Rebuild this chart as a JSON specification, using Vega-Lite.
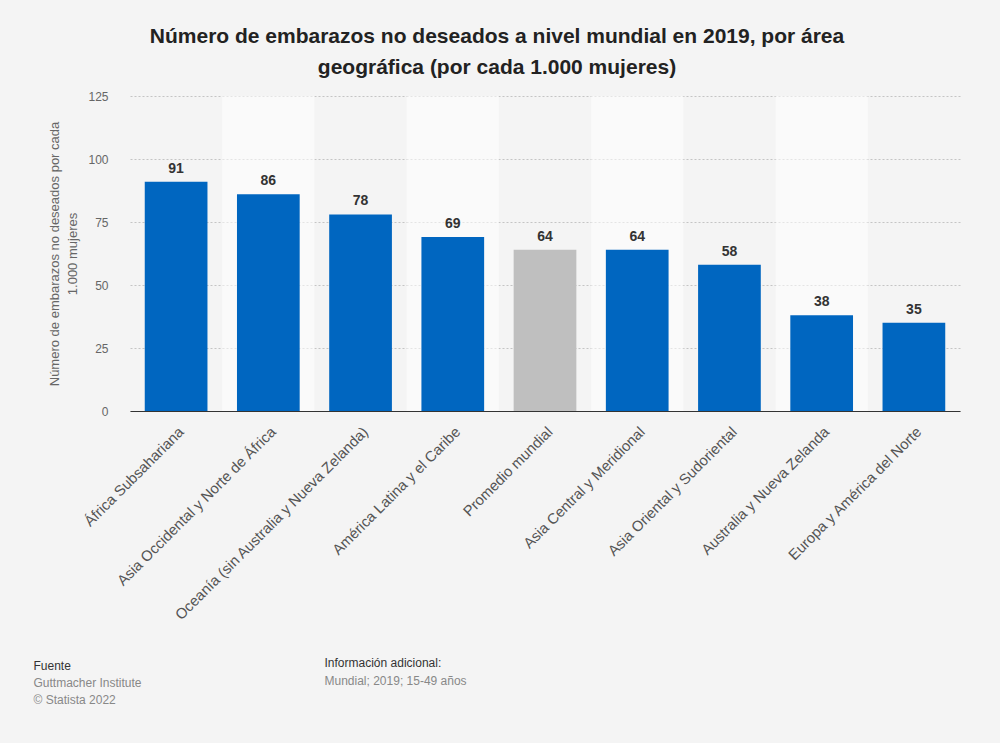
{
  "$schema": "https://vega.github.io/schema/vega-lite/v6.json",
  "width": 830,
  "height": 315,
  "autosize": {"type": "none"},
  "padding": {"left": 130, "top": 96, "right": 40, "bottom": 332},
  "background": "#f4f4f4",
  "config": {
    "view": {"stroke": null},
    "font": "Liberation Sans",
    "axis": {"titleFont": "Liberation Sans", "labelFont": "Liberation Sans"}
  },
  "title": {
    "text": ["Número de embarazos no deseados a nivel mundial en 2019, por área", "geográfica (por cada 1.000 mujeres)"],
    "font": "Liberation Sans",
    "fontSize": 21,
    "fontWeight": "bold",
    "color": "#222222",
    "anchor": "middle",
    "frame": "group",
    "dx": -48,
    "offset": 12,
    "lineHeight": 31
  },
  "data": {
    "values": [
      {"categoria": "África Subsahariana", "valor": 91},
      {"categoria": "Asia Occidental y Norte de África", "valor": 86},
      {"categoria": "Oceanía (sin Australia y Nueva Zelanda)", "valor": 78},
      {"categoria": "América Latina y el Caribe", "valor": 69},
      {"categoria": "Promedio mundial", "valor": 64},
      {"categoria": "Asia Central y Meridional", "valor": 64},
      {"categoria": "Asia Oriental y Sudoriental", "valor": 58},
      {"categoria": "Australia y Nueva Zelanda", "valor": 38},
      {"categoria": "Europa y América del Norte", "valor": 35}
    ]
  },
  "transform": [{"window": [{"op": "row_number", "as": "idx"}]}],
  "layer": [
    {
      "mark": {"type": "rect"},
      "encoding": {
        "x": {
          "field": "categoria", "type": "nominal", "sort": null,
          "scale": {"paddingInner": 0, "paddingOuter": 0},
          "axis": {
            "orient": "top", "labels": false, "ticks": false, "domain": false, "grid": false,
            "title": ["Guttmacher Institute", "© Statista 2022"],
            "titleX": -97, "titleY": 590, "titleAlign": "left", "titleAngle": 0,
            "titleBaseline": "alphabetic", "titleColor": "#888888", "titleFontSize": 12,
            "titleFontWeight": "normal", "titleLineHeight": 17
          }
        },
        "y": {
          "datum": 0, "type": "quantitative",
          "scale": {"domain": [0, 125], "nice": false},
          "axis": {
            "orient": "right", "labels": false, "ticks": false, "domain": false, "grid": false,
            "title": "Mundial; 2019; 15-49 años",
            "titleX": -636, "titleY": 588, "titleAlign": "left", "titleAngle": 0,
            "titleBaseline": "alphabetic", "titleColor": "#888888", "titleFontSize": 12,
            "titleFontWeight": "normal"
          }
        },
        "y2": {"datum": 125},
        "color": {"condition": {"test": "datum.idx % 2 == 0", "value": "#ffffff"}, "value": "#f4f4f4"},
        "opacity": {"condition": {"test": "datum.idx % 2 == 0", "value": 0.55}, "value": 0}
      }
    },
    {
      "mark": {"type": "bar", "width": {"band": 0.68}},
      "encoding": {
        "x": {
          "field": "categoria", "type": "nominal", "sort": null,
          "axis": {
            "orient": "bottom", "labelAngle": -45, "labelFontSize": 14.8, "labelColor": "#555555",
            "labelPadding": 13, "ticks": false, "domain": true, "domainColor": "#333333",
            "domainWidth": 1.2, "grid": false, "labelLimit": 400,
            "title": "Fuente",
            "titleX": -97, "titleY": 258, "titleAlign": "left", "titleAngle": 0,
            "titleBaseline": "alphabetic", "titleColor": "#333333", "titleFontSize": 12,
            "titleFontWeight": "normal"
          }
        },
        "y": {
          "field": "valor", "type": "quantitative",
          "scale": {"domain": [0, 125], "nice": false},
          "axis": {
            "orient": "left", "values": [0, 25, 50, 75, 100, 125],
            "grid": true, "gridDash": [2, 2], "gridColor": "#c4c4c4", "gridWidth": 1,
            "ticks": false, "domain": false, "labelPadding": 22, "labelColor": "#666666",
            "labelFontSize": 12,
            "title": ["Número de embarazos no deseados por cada", "1.000 mujeres"],
            "titleX": -76, "titleY": 157.5, "titleAlign": "center", "titleAngle": -90,
            "titleBaseline": "middle", "titleColor": "#666666", "titleFontSize": 13,
            "titleFontWeight": "normal", "titleLineHeight": 18
          }
        },
        "color": {"condition": {"test": "datum.categoria == 'Promedio mundial'", "value": "#bfbfbf"}, "value": "#0066c0"}
      }
    },
    {
      "mark": {"type": "text", "fontWeight": "bold", "fontSize": 14, "color": "#333333", "baseline": "bottom", "dy": -6},
      "encoding": {
        "x": {"field": "categoria", "type": "nominal", "sort": null, "axis": null},
        "y": {
          "field": "valor", "type": "quantitative",
          "scale": {"domain": [0, 125], "nice": false},
          "axis": {
            "orient": "right", "labels": false, "ticks": false, "domain": false, "grid": false,
            "title": "Información adicional:",
            "titleX": -636, "titleY": 570, "titleAlign": "left", "titleAngle": 0,
            "titleBaseline": "alphabetic", "titleColor": "#333333", "titleFontSize": 12,
            "titleFontWeight": "normal"
          }
        },
        "text": {"field": "valor", "type": "quantitative"}
      }
    }
  ],
  "resolve": {"axis": {"x": "independent", "y": "independent"}}
}
